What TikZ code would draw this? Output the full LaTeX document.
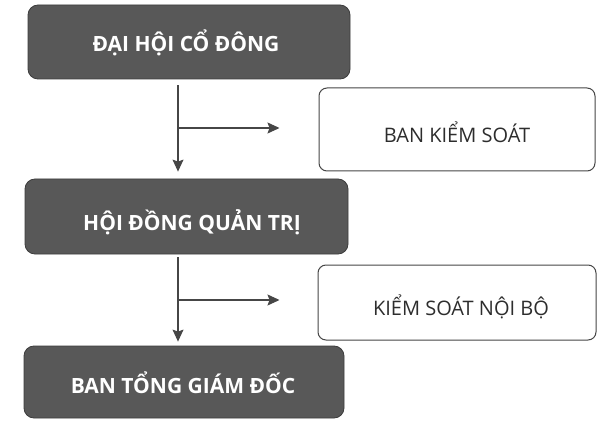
\documentclass[tikz,border=0pt]{standalone}
\usepackage{fontspec}
\setmainfont{Open Sans}
\usetikzlibrary{arrows.meta}
\definecolor{darkbox}{RGB}{88,88,88}
\definecolor{darkedge}{RGB}{60,60,60}
\definecolor{lineclr}{RGB}{70,70,70}
\definecolor{txtclr}{RGB}{45,45,45}
\tikzset{
  darkbox/.style={draw=darkedge, fill=darkbox, line width=0.8pt, rounded corners=10pt, inner sep=0pt},
  whitebox/.style={draw=lineclr, fill=white, line width=1pt, rounded corners=8pt, inner sep=0pt},
  darktext/.style={anchor=base, text=white, font=\fontsize{21}{24}\selectfont\bfseries, inner sep=0pt},
  whitetext/.style={anchor=base, text=txtclr, font=\fontsize{20}{23}\selectfont, inner sep=0pt},
  conn/.style={draw=lineclr, line width=1.1pt, -{Stealth[length=12pt,width=11pt,inset=2pt]}},
}
\begin{document}
\begin{tikzpicture}[x=1pt, y=-1pt]
\useasboundingbox (0,0) rectangle (597,422);
% dark boxes
\node[darkbox, minimum width=322pt, minimum height=74pt] (b1) at (189,42) {};
\node[darkbox, minimum width=323pt, minimum height=75pt] (b2) at (186.5,216.5) {};
\node[darkbox, minimum width=320pt, minimum height=72pt] (b3) at (184,382) {};
% white boxes
\node[whitebox, minimum width=276pt, minimum height=83pt] (w1) at (457,129.5) {};
\node[whitebox, minimum width=278pt, minimum height=75pt] (w2) at (457,302.5) {};
% texts
\node[darktext] (t1) at (186,52) {ĐẠI HỘI CỔ ĐÔNG};
\node[darktext] (t2) at (192,230) {HỘI ĐỒNG QUẢN TRỊ};
\node[darktext] (t3) at (183,393) {BAN TỔNG GIÁM ĐỐC};
\node[whitetext] (t4) at (457,143) {BAN KIỂM SOÁT};
\node[whitetext] (t5) at (461,315) {KIỂM SOÁT NỘI BỘ};
% junctions
\coordinate (j1) at (178,128);
\coordinate (j2) at (178,300);
% connectors
\draw[conn] ([yshift=-6pt]b1.south -| j1) -- ([yshift=7pt]b2.north -| j1);
\draw[conn, shorten >=39pt] (j1) -- (w1.west |- j1);
\draw[conn] ([yshift=-3pt]b2.south -| j2) -- ([yshift=4pt]b3.north -| j2);
\draw[conn, shorten >=38pt] (j2) -- (w2.west |- j2);
\end{tikzpicture}
\end{document}
